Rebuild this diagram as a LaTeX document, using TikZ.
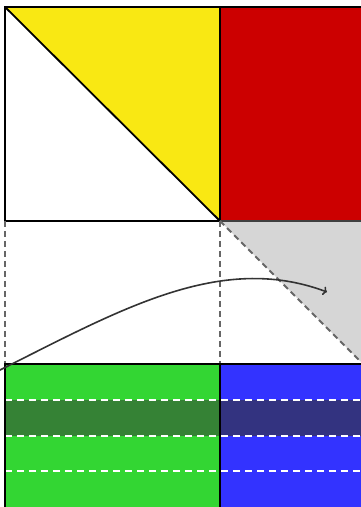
\documentclass[tikz,border=0pt]{standalone}
\usetikzlibrary{arrows.meta}
\definecolor{sqyellow}{HTML}{F9E813}
\definecolor{sqred}{HTML}{CC0000}
\definecolor{shadegrey}{HTML}{D6D6D6}
\definecolor{lightgreen}{HTML}{33D633}
\definecolor{darkgreen}{HTML}{358235}
\definecolor{lightblue}{HTML}{3333FF}
\definecolor{darkblue}{HTML}{333380}
\definecolor{guide}{HTML}{666666}
\tikzset{
    guideline/.style={guide, line width=1.8pt, dash pattern=on 6pt off 4pt},
    bandline/.style={white, line width=1.6pt, dash pattern=on 7pt off 5pt},
}
\begin{document}
\begin{tikzpicture}[x=1pt, y=1pt]
    \useasboundingbox (0, 0) rectangle (361, 507);
    \clip (0, 0) rectangle (361, 507);

    % top square
    \fill[sqyellow] (5, 500) -- (220, 500) -- (220, 286) -- cycle;
    \fill[sqred] (220, 286) rectangle (370, 500);
    \fill[shadegrey] (220, 286) -- (370, 286) -- (370, 136) -- cycle;
    \draw[line width=1.8pt] (5, 500) -- (220, 286);
    \draw[line width=1.8pt] (5, 286) rectangle (220, 500);
    \draw[line width=1.8pt] (220, 500) -- (370, 500);
    \draw[line width=1.6pt, black!75] (220, 286) -- (370, 286);

    % guides
    \draw[guideline] (5, 286) -- (5, 143);
    \draw[guideline] (220, 286) -- (220, 143);
    \draw[guideline] (220, 286) -- (370, 136);

    % bottom strip
    \fill[lightgreen] (5, 0) rectangle (220, 143);
    \fill[lightblue] (220, 0) rectangle (370, 143);
    \fill[darkgreen] (5, 71) rectangle (220, 107);
    \fill[darkblue] (220, 71) rectangle (370, 107);
    \foreach \ly in {107, 71, 36}
        \draw[bandline] (5, \ly) -- (370, \ly);
    \draw[line width=1.8pt] (5, 0) -- (5, 143) -- (370, 143);
    \draw[line width=1.8pt] (220, 0) -- (220, 143);

    % sweep
    \draw[-{To[length=4pt, width=9pt]}, line width=1.6pt, black!80]
        (-2, 136) .. controls (120, 197) and (220, 255) .. (327, 215);
\end{tikzpicture}
\end{document}
